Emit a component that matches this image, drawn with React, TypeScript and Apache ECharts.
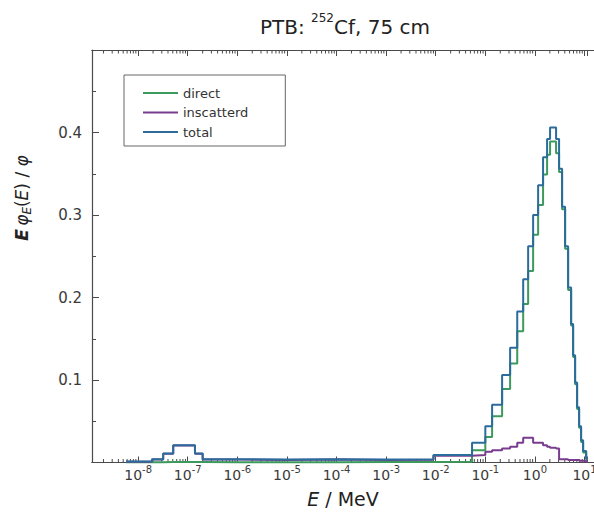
import React, { useEffect, useRef } from 'react';
import * as echarts from 'echarts';

// Histogram bin edges (MeV); value i holds from edge i to edge i+1
const binEdgesMeV = [
  5.7e-9, 1.9e-8, 3.2e-8, 5.1e-8, 1.4e-7, 2.0e-7, 1e-6, 1e-5, 1e-4, 1e-3,
  9e-3, 0.054, 0.1, 0.137, 0.218, 0.316, 0.44, 0.58, 0.73, 0.92,
  1.16, 1.46, 1.76, 2.02, 2.67, 3.07, 3.53, 4.06, 4.67, 5.37,
  5.89, 6.46, 7.09, 7.78, 8.53, 9.37, 10.8, 13.0, 15.5,
];

const totalValues = [
  0.0012, 0.004, 0.011, 0.021, 0.011, 0.004, 0.0035, 0.004, 0.0035, 0.004,
  0.009, 0.024, 0.044, 0.07, 0.106, 0.139, 0.183, 0.222, 0.262, 0.3,
  0.336, 0.37, 0.392, 0.406, 0.392, 0.356, 0.31, 0.262, 0.212, 0.168,
  0.13, 0.097, 0.067, 0.044, 0.027, 0.014, 0.005, 0.0008, 0,
];

const directValues = [
  0.0004, 0.0004, 0.0005, 0.0005, 0.0005, 0.0004, 0.0004, 0.0004, 0.0005, 0.0006,
  0.0008, 0.015, 0.031, 0.056, 0.089, 0.12, 0.159, 0.192, 0.232, 0.276,
  0.312, 0.349, 0.373, 0.389, 0.375, 0.352, 0.307, 0.259, 0.209, 0.166,
  0.128, 0.095, 0.065, 0.042, 0.025, 0.012, 0.004, 0.0005, 0,
];

const inscatteredValues = [
  0.0008, 0.0036, 0.0105, 0.0205, 0.0105, 0.0036, 0.0031, 0.0036, 0.003, 0.0034,
  0.0082, 0.009, 0.013, 0.015, 0.017, 0.019, 0.024, 0.03, 0.03, 0.024,
  0.024, 0.021, 0.019, 0.018, 0.017, 0.004, 0.004, 0.004, 0.003, 0.003,
  0.003, 0.003, 0.003, 0.002, 0.002, 0.002, 0.001, 0.0003, 0,
];

const seriesNames = ['direct', 'inscatterd', 'total'];
const seriesColors = ['#3c9a5c', '#7a3c8e', '#2b6c9c'];

// log-axis minor tick positions (2..9 x 10^d)
const minorMultipliers = [2, 3, 4, 5, 6, 7, 8, 9];
const minorDecades = [-9, -8, -7, -6, -5, -4, -3, -2, -1, 0];

const X_MIN = Math.pow(10, -8.93);
const X_MAX = Math.pow(10, 1.05);
const FONT = 'DejaVu Sans';
const AXIS_COLOR = '#4a4a4a';
const TEXT_COLOR = '#3a3a3a';

export default function App() {
  const ref = useRef<HTMLDivElement>(null);

  useEffect(() => {
    if (!ref.current) return;
    const chart = echarts.init(ref.current, undefined, { renderer: 'svg' });

    const minorTicks: number[][] = [];
    minorDecades.forEach((d) => {
      minorMultipliers.forEach((m) => {
        const v = m * Math.pow(10, d);
        if (v > X_MIN && v < X_MAX) minorTicks.push([v, 0]);
      });
    });

    const mk = (vals: number[]) => binEdgesMeV.map((e, i) => [e, vals[i]]);
    const dataSets = [directValues, inscatteredValues, totalValues];

    const lineSeries = seriesNames.map((name, k) => ({
      name,
      type: 'line',
      step: 'end',
      showSymbol: false,
      symbol: 'none',
      clip: false,
      z: 3 + k,
      xAxisIndex: 0,
      yAxisIndex: 0,
      lineStyle: { width: 2, color: seriesColors[k] },
      itemStyle: { color: seriesColors[k] },
      data: mk(dataSets[k]),
    }));

    const option: any = {
      animation: false,
      backgroundColor: '#ffffff',
      grid: [
        { left: 92, top: 50, right: 7, bottom: 56.5, outerBoundsMode: 'none', containLabel: false },
        { left: 92, top: 50, right: -20, bottom: 56.5, outerBoundsMode: 'none', containLabel: false },
      ],
      legend: {
        data: seriesNames,
        orient: 'vertical',
        left: 124,
        top: 75,
        padding: [11.5, 37, 7.5, 19],
        itemGap: 6.5,
        itemWidth: 35,
        itemHeight: 2,
        icon: 'rect',
        borderColor: '#666',
        borderWidth: 1,
        textStyle: { fontFamily: FONT, fontSize: 13, color: '#333' },
      },
      xAxis: [
        {
          type: 'log',
          logBase: 10,
          gridIndex: 0,
          min: X_MIN,
          max: X_MAX,
          position: 'bottom',
          axisLine: { show: true, onZero: false, lineStyle: { color: AXIS_COLOR, width: 1.2 } },
          axisTick: { show: true, inside: true, length: 6, lineStyle: { color: AXIS_COLOR } },
          minorTick: { show: false },
          splitLine: { show: false },
          axisLabel: {
            margin: 2,
            color: TEXT_COLOR,
            formatter: (v: number) => {
              const e = Math.log10(v);
              const r = Math.round(e);
              if (Math.abs(e - r) > 1e-6) return '';
              return `{b|10}{s|${r}}`;
            },
            rich: {
              b: { fontFamily: FONT, fontSize: 14, color: TEXT_COLOR, padding: [3, 0, 0, 0] },
              s: { fontFamily: FONT, fontSize: 10, color: TEXT_COLOR, verticalAlign: 'top' },
            },
          },
        },
        {
          type: 'log',
          logBase: 10,
          gridIndex: 0,
          min: X_MIN,
          max: X_MAX,
          position: 'top',
          axisLine: { show: true, onZero: false, lineStyle: { color: AXIS_COLOR, width: 1.2 } },
          axisTick: { show: true, inside: true, length: 6, lineStyle: { color: AXIS_COLOR } },
          axisLabel: { show: false },
          splitLine: { show: false },
        },
        {
          type: 'value',
          gridIndex: 1,
          min: 0,
          max: 1,
          position: 'bottom',
          axisLine: { show: true, onZero: false, lineStyle: { color: AXIS_COLOR, width: 1.2 } },
          axisTick: { show: false },
          axisLabel: { show: false },
          splitLine: { show: false },
        },
        {
          type: 'value',
          gridIndex: 1,
          min: 0,
          max: 1,
          position: 'top',
          axisLine: { show: true, onZero: false, lineStyle: { color: AXIS_COLOR, width: 1.2 } },
          axisTick: { show: false },
          axisLabel: { show: false },
          splitLine: { show: false },
        },
      ],
      yAxis: [
        {
          type: 'value',
          gridIndex: 0,
          min: 0,
          max: 0.5,
          interval: 0.1,
          axisLine: { show: true, onZero: false, lineStyle: { color: AXIS_COLOR, width: 1.2 } },
          axisTick: { show: true, inside: true, length: 7, lineStyle: { color: AXIS_COLOR } },
          minorTick: { show: true, splitNumber: 2, length: 4, lineStyle: { color: AXIS_COLOR } },
          splitLine: { show: false },
          axisLabel: {
            margin: 10,
            fontFamily: FONT,
            fontSize: 15,
            color: TEXT_COLOR,
            formatter: (v: number) => (v <= 0 || v >= 0.5 ? '' : v.toFixed(1)),
          },
        },
        { type: 'value', gridIndex: 1, min: 0, max: 1, show: false },
      ],
      series: [
        {
          type: 'custom',
          name: 'minorTicks',
          xAxisIndex: 0,
          yAxisIndex: 0,
          silent: true,
          clip: false,
          z: 1,
          data: minorTicks,
          renderItem: (params: any, api: any) => {
            const x = api.value(0);
            const b = api.coord([x, 0]);
            const t = api.coord([x, 0.5]);
            const style = { stroke: AXIS_COLOR, lineWidth: 1 };
            return {
              type: 'group',
              children: [
                { type: 'line', shape: { x1: b[0], y1: b[1], x2: b[0], y2: b[1] - 3.5 }, style },
                { type: 'line', shape: { x1: t[0], y1: t[1], x2: t[0], y2: t[1] + 3.5 }, style },
              ],
            };
          },
        },
        ...lineSeries,
      ],
      graphic: [
        {
          type: 'text',
          x: 345,
          y: 24,
          style: {
            text: '{a|PTB: }{s|252}{a|Cf, 75 cm}',
            textAlign: 'center',
            textVerticalAlign: 'middle',
            align: 'center',
            verticalAlign: 'middle',
            fill: '#222',
            rich: {
              a: { fontFamily: FONT, fontSize: 20, fill: '#222', color: '#222', padding: [5, 0, 0, 0] },
              s: { fontFamily: FONT, fontSize: 12, fill: '#222', color: '#222', verticalAlign: 'top' },
            },
          },
        },
        {
          type: 'text',
          x: 343,
          y: 499,
          style: {
            text: '{i|E}{n| / MeV}',
            textAlign: 'center',
            textVerticalAlign: 'middle',
            align: 'center',
            verticalAlign: 'middle',
            fill: '#222',
            rich: {
              i: { fontFamily: FONT, fontSize: 19, fontStyle: 'italic', fill: '#222', color: '#222' },
              n: { fontFamily: FONT, fontSize: 19, fill: '#222', color: '#222' },
            },
          },
        },
        {
          type: 'text',
          x: 23,
          y: 198,
          rotation: Math.PI / 2,
          style: {
            text: '{bi|E} {i|φ}{sub|E}{n|(}{i|E}{n|) / }{i|φ}',
            textAlign: 'center',
            textVerticalAlign: 'middle',
            align: 'center',
            verticalAlign: 'middle',
            fill: '#222',
            rich: {
              bi: { fontFamily: FONT, fontSize: 17, fontStyle: 'italic', fontWeight: 'bold', fill: '#222', color: '#222', padding: [0, 0, 3, 0] },
              i: { fontFamily: FONT, fontSize: 17, fontStyle: 'italic', fill: '#222', color: '#222', padding: [0, 0, 3, 0] },
              n: { fontFamily: FONT, fontSize: 17, fill: '#222', color: '#222', padding: [0, 0, 3, 0] },
              sub: { fontFamily: FONT, fontSize: 12, fontStyle: 'italic', fill: '#222', color: '#222', verticalAlign: 'bottom' },
            },
          },
        },
      ],
    };

    chart.setOption(option);
    return () => chart.dispose();
  }, []);

  return (
    <div
      ref={ref}
      style={{ position: 'fixed', left: 0, top: 0, width: 594, height: 519, background: '#fff' }}
    />
  );
}
